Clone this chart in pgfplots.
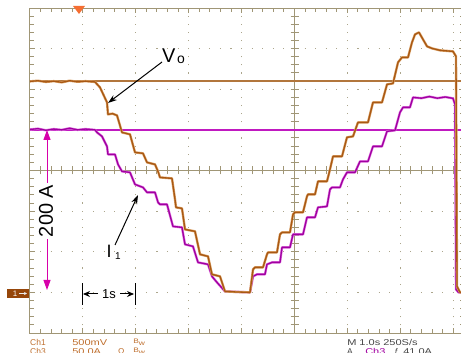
\documentclass[border=0pt]{standalone}
\usepackage{pgfplots}
\pgfplotsset{compat=1.18}
\usepackage{pgfplotstable}
\usepackage{fontspec}
\setmainfont{Liberation Sans}
\usetikzlibrary{arrows.meta}

\definecolor{scopeframe}{RGB}{160,150,118}
\definecolor{scopegrid}{RGB}{172,166,140}
\definecolor{choneDark}{RGB}{168,88,20}
\definecolor{choneLight}{RGB}{218,160,100}
\definecolor{chthreeDark}{RGB}{160,0,160}
\definecolor{chthreeLight}{RGB}{222,115,222}
\definecolor{cursorone}{RGB}{178,118,60}
\definecolor{cursorthree}{RGB}{192,25,192}
\definecolor{annmag}{RGB}{215,0,170}
\definecolor{readout}{RGB}{190,110,45}
\definecolor{readgray}{RGB}{70,70,70}
\definecolor{trigger}{RGB}{245,110,50}
\definecolor{gndbox}{RGB}{150,70,10}

% Ch1: output voltage Vo (V), 500 mV/div, ground one division above the bottom
\pgfplotstableread{
t v
0.000 2.597
0.150 2.605
0.300 2.590
0.450 2.600
0.600 2.585
0.750 2.605
0.900 2.592
1.050 2.600
1.229 2.590
1.323 2.523
1.456 2.338
1.474 2.191
1.560 2.200
1.645 2.178
1.739 1.969
1.890 1.945
1.985 1.723
2.136 1.711
2.212 1.600
2.363 1.575
2.420 1.489
2.457 1.415
2.684 1.403
2.741 1.145
2.760 1.046
2.873 1.034
2.930 0.775
3.119 0.751
3.214 0.468
3.365 0.443
3.440 0.222
3.592 0.197
3.686 0.012
3.900 0.005
4.159 0.000
4.216 0.283
4.253 0.308
4.405 0.308
4.480 0.468
4.499 0.492
4.669 0.492
4.726 0.714
4.764 0.738
4.915 0.738
4.972 0.960
5.009 0.985
5.161 0.985
5.236 1.182
5.255 1.206
5.388 1.206
5.444 1.366
5.614 1.366
5.671 1.514
5.728 1.674
5.898 1.674
5.992 1.908
6.106 1.920
6.200 2.092
6.389 2.092
6.484 2.338
6.654 2.338
6.749 2.560
6.862 2.572
6.957 2.831
7.032 2.892
7.146 2.892
7.221 3.077
7.278 3.175
7.353 3.200
7.429 3.114
7.505 3.028
7.599 3.003
7.750 2.979
7.996 2.966
8.053 2.905
8.072 0.074
8.129 0.000
8.200 0.000
}\vodata

% Ch3: current I1 (A), 50 A/div, same ground
\pgfplotstableread{
t i
0.000 200.5
0.150 201.5
0.300 199.5
0.450 201.0
0.600 200.0
0.750 202.0
0.900 200.0
1.050 201.0
1.229 200.0
1.267 196.9
1.361 192.0
1.456 179.7
1.474 169.8
1.607 169.8
1.664 157.5
1.739 148.9
1.890 147.7
1.985 132.9
2.136 129.2
2.212 123.1
2.363 123.1
2.420 110.8
2.457 108.3
2.590 108.3
2.703 81.2
2.873 80.0
2.930 59.1
3.081 56.6
3.176 36.9
3.365 34.5
3.440 19.7
3.535 12.3
3.686 1.2
4.159 0.0
4.216 19.7
4.291 22.2
4.442 22.2
4.480 34.5
4.575 36.9
4.726 36.9
4.764 55.4
4.915 55.4
4.972 71.4
5.161 71.4
5.236 92.3
5.388 92.3
5.444 104.6
5.614 105.8
5.671 126.8
5.709 129.2
5.860 129.2
5.917 139.1
5.992 147.7
6.144 147.7
6.238 161.2
6.389 161.2
6.484 179.7
6.654 179.7
6.749 198.2
6.900 199.4
6.994 221.5
7.051 227.7
7.183 227.7
7.240 240.0
7.400 239.0
7.550 241.0
7.700 239.0
7.850 240.5
7.996 238.8
8.034 231.4
8.053 3.7
8.100 0.0
8.200 0.0
}\ionedata

\begin{document}
\begin{tikzpicture}
\useasboundingbox (-30bp,-20bp) rectangle (431bp,333bp);

% graticule: dotted division lines and the centre cross with its ticks
\begin{scope}[x=52.9bp,y=40.625bp]
  \foreach \gx in {1,2,3,4,6,7,8}
    \draw[scopegrid, line width=1.1bp, dash pattern=on 1.1bp off 7.025bp, dash phase=0.55bp] (\gx,0) -- (\gx,8);
  \foreach \gy in {1,2,3,5,6,7}
    \draw[scopegrid, line width=1.1bp, dash pattern=on 1.1bp off 9.48bp, dash phase=0.55bp] (0,\gy) -- (8.2,\gy);
  \draw[scopeframe, line width=1bp] (5,0) -- (5,8) (0,4) -- (8.2,4);
  \foreach \k in {1,...,39}
    \draw[scopeframe, line width=1bp] ([xshift=-4bp]5,\k/5) -- ([xshift=4bp]5,\k/5);
  \foreach \k in {1,...,40}
    \draw[scopeframe, line width=1bp] ([yshift=-4bp]\k/5,4) -- ([yshift=4bp]\k/5,4);
\end{scope}

\begin{axis}[
  at={(0,0)}, anchor=south west,
  scale only axis, width=433.78bp, height=325bp,
  xmin=0, xmax=8.2, ymin=0, ymax=8,
  xtick={0,...,8}, ytick={0,...,8},
  minor x tick num=4, minor y tick num=4,
  xticklabels={}, yticklabels={},
  tick align=inside,
  major tick length=5bp, minor tick length=3.5bp,
  axis line style={scopeframe, line width=1bp},
  tick style={scopeframe, line width=1bp},
  clip=false,
]
  % cursors
  \addplot[color=cursorone, line width=1.3bp] coordinates {(0,6.2) (8.2,6.2)};
  \addplot[color=cursorthree, line width=1.3bp] coordinates {(0,5) (8.2,5)};
  % I1 trace
  \addplot[color=chthreeLight, line width=2.4bp, line join=round] table[x=t, y expr=\thisrow{i}/50+1] {\ionedata};
  \addplot[color=chthreeDark, line width=1.3bp, line join=round] table[x=t, y expr=\thisrow{i}/50+1] {\ionedata};
  % Vo trace
  \addplot[color=choneLight, line width=2.4bp, line join=round] table[x=t, y expr=\thisrow{v}/0.5+1] {\vodata};
  \addplot[color=choneDark, line width=1.3bp, line join=round] table[x=t, y expr=\thisrow{v}/0.5+1] {\vodata};
\end{axis}

% trigger position marker and ground marker
\fill[trigger] (43bp,327bp) -- (55bp,327bp) -- (49bp,319bp) -- cycle;
\fill[gndbox] (-23bp,35bp) rectangle (-1bp,44bp);
\node[white, inner sep=0, font=\fontsize{8}{8}\selectfont] at (-15bp,39.5bp) {1};
\draw[white!85!gray, line width=0.8bp, -{Stealth[length=3bp,width=3bp]}] (-11bp,39.5bp) -- (-3bp,39.5bp);

% labels with arrows
\node[anchor=base west, inner sep=0, font=\fontsize{20}{20}\selectfont] at (132bp,270bp) {V};
\node[anchor=base west, inner sep=0, font=\fontsize{14}{14}\selectfont] at (147bp,269bp) {o};
\draw[black, line width=1bp, -{Stealth[length=9bp,width=6bp]}] (132bp,271bp) -- (78bp,230bp);

\node[anchor=base west, inner sep=0, font=\fontsize{18}{18}\selectfont] at (76.5bp,75bp) {I};
\node[anchor=base west, inner sep=0, font=\fontsize{10}{10}\selectfont] at (85bp,73bp) {1};
\draw[black, line width=1bp, -{Stealth[length=9bp,width=6bp]}] (85bp,88bp) -- (108bp,138bp);

% 200 A scale arrow
\draw[annmag, line width=1bp, {Triangle[length=10bp,width=7bp]}-{Triangle[length=10bp,width=7bp]}] (17bp,203bp) -- (17bp,43bp);
\node[rotate=90, fill=white, inner xsep=2bp, inner ysep=0bp, font=\fontsize{20}{20}\selectfont] at (16bp,122bp) {200 A};

% 1 s time span
\draw[black, line width=1bp] (52bp,28bp) -- (52bp,50bp) (105bp,28bp) -- (105bp,50bp);
\draw[black, line width=1bp, -{Stealth[length=7bp,width=6bp]}] (68bp,39bp) -- (53bp,39bp);
\draw[black, line width=1bp, -{Stealth[length=7bp,width=6bp]}] (90bp,39bp) -- (104bp,39bp);
\node[inner sep=0, font=\fontsize{13}{13}\selectfont] at (79bp,39bp) {1s};

% readout lines
\begin{scope}[every node/.style={anchor=base west, inner sep=0, font=\fontsize{8.5}{9}\selectfont}]
  \node[readout] at (0bp,-12bp) {Ch1};
  \node[readout, xscale=1.3] at (42bp,-12bp) {500mV};
  \node[readout, font=\fontsize{6.5}{7}\selectfont, xscale=1.3] at (103bp,-12bp) {\raisebox{1.5bp}{B}w};
  \node[readout] at (0bp,-21bp) {Ch3};
  \node[readout, xscale=1.3] at (42bp,-21bp) {50.0A};
  \node[readout] at (88bp,-21bp) {Ω};
  \node[readout, font=\fontsize{6.5}{7}\selectfont, xscale=1.3] at (103bp,-21bp) {\raisebox{1.5bp}{B}w};
  \node[readgray, xscale=1.3] at (317bp,-12bp) {M 1.0s 250S/s};
  \node[readgray] at (317bp,-21bp) {A};
  \node[chthreeDark, xscale=1.3] at (335bp,-21bp) {Ch3};
  \node[readgray] at (364bp,-21bp) {ƒ};
  \node[readgray, xscale=1.3] at (373bp,-21bp) {41.0A};
\end{scope}
\end{tikzpicture}
\end{document}
